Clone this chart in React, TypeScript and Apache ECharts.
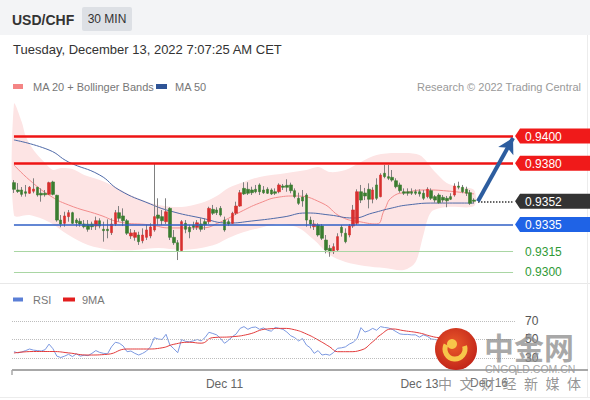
import React, { useEffect, useRef } from "react";
import * as echarts from "echarts";

// ---- DATA ----
// 30-min candles: [open, close, low, high]
const candles: number[][] = [
  [0.93657, 0.93608, 0.93581, 0.93676], [0.93603, 0.93592, 0.93581, 0.93654], [0.93603, 0.93571, 0.93554, 0.93625],
  [0.9359, 0.93579, 0.93554, 0.9364], [0.93579, 0.93623, 0.93574, 0.93632], [0.93594, 0.9361, 0.93579, 0.93689],
  [0.93623, 0.93566, 0.93554, 0.93627], [0.93579, 0.93566, 0.93517, 0.93615], [0.93579, 0.93568, 0.93554, 0.93603],
  [0.93571, 0.93657, 0.93566, 0.93664], [0.93662, 0.93571, 0.93564, 0.93671], [0.93564, 0.93382, 0.9337, 0.93568],
  [0.93382, 0.93353, 0.93329, 0.93419], [0.93358, 0.93412, 0.93333, 0.93443], [0.93407, 0.93436, 0.9337, 0.93456],
  [0.93436, 0.93358, 0.93353, 0.93443], [0.93382, 0.93362, 0.93333, 0.93395], [0.93373, 0.93353, 0.93333, 0.93395],
  [0.93353, 0.93333, 0.93321, 0.93382], [0.93351, 0.93314, 0.93296, 0.93382], [0.93353, 0.93333, 0.93309, 0.9337],
  [0.93338, 0.93377, 0.93309, 0.93407], [0.93377, 0.93338, 0.93321, 0.93395], [0.93314, 0.93304, 0.93223, 0.9337],
  [0.93314, 0.93304, 0.93248, 0.93387], [0.93289, 0.93353, 0.93272, 0.93395], [0.93353, 0.93436, 0.93338, 0.93456],
  [0.93436, 0.93395, 0.9337, 0.93485], [0.93412, 0.93377, 0.93338, 0.93468], [0.93377, 0.93285, 0.93272, 0.9339],
  [0.93265, 0.93287, 0.93243, 0.93316], [0.93255, 0.93289, 0.9323, 0.93309], [0.93272, 0.93223, 0.93199, 0.93296],
  [0.9323, 0.93272, 0.93211, 0.93321], [0.93255, 0.93309, 0.93235, 0.93346], [0.93265, 0.93331, 0.93248, 0.93358],
  [0.93309, 0.93407, 0.93296, 0.93799], [0.93419, 0.93395, 0.93346, 0.93542], [0.93407, 0.93377, 0.93346, 0.93456],
  [0.9337, 0.93443, 0.93353, 0.93542], [0.93468, 0.93255, 0.93235, 0.93476], [0.93255, 0.93215, 0.93199, 0.93309],
  [0.93215, 0.93157, 0.93088, 0.93235], [0.93157, 0.9337, 0.93149, 0.93382], [0.93358, 0.93314, 0.93285, 0.93382],
  [0.93329, 0.93296, 0.93248, 0.93346], [0.93346, 0.93329, 0.93309, 0.9337], [0.93329, 0.93362, 0.93309, 0.93382],
  [0.93353, 0.93314, 0.93296, 0.93395], [0.9337, 0.93346, 0.93309, 0.93395], [0.9337, 0.93468, 0.93353, 0.9348],
  [0.93461, 0.93432, 0.93419, 0.93493], [0.93456, 0.93436, 0.93419, 0.93476], [0.93468, 0.93419, 0.93407, 0.93485],
  [0.93382, 0.93309, 0.93296, 0.93407], [0.9337, 0.93353, 0.93338, 0.93387], [0.93358, 0.93432, 0.93353, 0.93443],
  [0.93432, 0.93485, 0.93419, 0.93517], [0.93485, 0.93583, 0.9348, 0.93603], [0.93615, 0.93574, 0.93566, 0.9366],
  [0.93608, 0.93579, 0.93566, 0.9366], [0.93603, 0.93583, 0.93566, 0.93627], [0.93608, 0.9359, 0.93579, 0.9364],
  [0.9364, 0.9359, 0.93566, 0.93652], [0.93603, 0.93583, 0.93574, 0.93632], [0.93608, 0.93579, 0.93574, 0.93623],
  [0.93603, 0.93574, 0.93566, 0.93615], [0.9359, 0.93579, 0.93566, 0.93615], [0.9359, 0.9364, 0.93579, 0.93652],
  [0.93632, 0.93623, 0.93603, 0.93647], [0.93637, 0.93623, 0.9359, 0.93682], [0.9364, 0.93598, 0.93579, 0.93657],
  [0.93598, 0.93554, 0.93542, 0.93615], [0.93542, 0.93505, 0.93493, 0.93583], [0.93551, 0.93522, 0.9348, 0.93603],
  [0.93566, 0.93382, 0.93333, 0.93579], [0.93382, 0.93353, 0.93321, 0.93407], [0.93333, 0.93353, 0.93309, 0.93382],
  [0.93346, 0.93272, 0.9326, 0.93358], [0.93338, 0.93248, 0.93235, 0.93353], [0.93235, 0.93162, 0.93137, 0.93272],
  [0.93174, 0.93149, 0.93112, 0.93199], [0.93149, 0.93186, 0.93132, 0.93211], [0.93162, 0.9326, 0.93149, 0.93285],
  [0.93329, 0.93289, 0.9326, 0.93346], [0.93285, 0.93223, 0.93211, 0.93321], [0.93272, 0.93338, 0.93255, 0.93353],
  [0.93338, 0.93456, 0.93324, 0.93493], [0.93358, 0.9359, 0.93346, 0.93608], [0.9359, 0.93529, 0.93507, 0.9364],
  [0.93581, 0.93559, 0.93529, 0.93618], [0.93608, 0.93535, 0.93468, 0.93652], [0.93535, 0.93603, 0.93505, 0.93623],
  [0.9364, 0.93542, 0.93529, 0.93689], [0.93554, 0.93713, 0.93549, 0.93726], [0.93726, 0.93701, 0.93689, 0.93787],
  [0.93701, 0.93689, 0.93676, 0.93787], [0.93696, 0.93676, 0.93664, 0.9375], [0.93671, 0.93627, 0.93615, 0.93689],
  [0.9364, 0.93598, 0.93583, 0.93657], [0.9359, 0.93579, 0.93566, 0.93615], [0.9359, 0.93579, 0.93561, 0.93615],
  [0.9359, 0.93579, 0.93566, 0.93615], [0.9359, 0.93579, 0.93566, 0.93608], [0.9359, 0.93574, 0.93554, 0.93608],
  [0.93579, 0.93542, 0.93529, 0.93603], [0.93554, 0.93608, 0.93542, 0.93623], [0.93598, 0.93542, 0.93529, 0.93615],
  [0.93554, 0.93529, 0.9351, 0.93566], [0.93566, 0.9351, 0.935, 0.93579], [0.93549, 0.93529, 0.9351, 0.93566],
  [0.93542, 0.93524, 0.93476, 0.93559], [0.93554, 0.93535, 0.93529, 0.93579], [0.93566, 0.93632, 0.93554, 0.93652],
  [0.93632, 0.93623, 0.93608, 0.93664], [0.93623, 0.9359, 0.93579, 0.9364], [0.93608, 0.93579, 0.93559, 0.93627],
  [0.93583, 0.93505, 0.93493, 0.93603], [0.93529, 0.9352, 0.93505, 0.93542],
];

// Bollinger bands and moving averages: [candle index, price]
const bbUpper: number[][] = [
  [0, 0.94235], [2, 0.94103], [3, 0.94], [5, 0.93897], [8, 0.93801], [10, 0.9375], [12, 0.93765], [15, 0.93757],
  [18, 0.93713], [22, 0.93676], [26, 0.93625], [31, 0.93551], [37, 0.93493], [43, 0.93478], [48, 0.93507],
  [52, 0.93559], [55, 0.93618], [59, 0.93662], [63, 0.93699], [70, 0.93728], [75, 0.9375], [78, 0.93772],
  [81, 0.93735], [85, 0.9375], [89, 0.93809], [93, 0.9386], [98, 0.93875], [104, 0.9386], [108, 0.93735],
  [111, 0.93654], [114, 0.93625], [118, 0.93603],
];
const bbLower: number[][] = [
  [0, 0.93419], [4, 0.93419], [9, 0.93368], [14, 0.93272], [19, 0.93199], [25, 0.93162], [31, 0.93162],
  [37, 0.93176], [43, 0.93162], [48, 0.93176], [52, 0.93206], [55, 0.9325], [59, 0.93294], [63, 0.93324],
  [68, 0.93353], [73, 0.93324], [77, 0.93235], [81, 0.93125], [85, 0.93074], [90, 0.93044], [95, 0.93029],
  [100, 0.93015], [103, 0.93074], [105, 0.93272], [107, 0.93441], [111, 0.93478], [118, 0.93485],
];
const ma20: number[][] = [
  [0, 0.93787], [4, 0.93676], [9, 0.93566], [14, 0.93493], [22, 0.93419], [27, 0.93368], [35, 0.93346],
  [40, 0.93324], [48, 0.93324], [53, 0.93368], [58, 0.93441], [63, 0.93507], [68, 0.93551], [72, 0.93559],
  [79, 0.93507], [84, 0.93404], [89, 0.93368], [93, 0.93353], [95, 0.93456], [97, 0.93551], [101, 0.93588],
  [106, 0.93603], [111, 0.93596], [118, 0.93574],
];
const ma50: number[][] = [
  [0, 0.93971], [9, 0.93897], [14, 0.93809], [22, 0.93713], [27, 0.93603], [35, 0.935], [40, 0.93449],
  [48, 0.93397], [55, 0.9336], [61, 0.93375], [69, 0.93404], [75, 0.93434], [81, 0.93419], [87, 0.93397],
  [92, 0.93434], [97, 0.93471], [101, 0.93493], [108, 0.93507], [118, 0.93507],
];

const rsi: number[] = [
  36.8, 35.5, 36.5, 38, 39.7, 38.5, 38, 37.5, 39, 45, 40, 32, 30.5, 32, 34, 31.5, 34.5, 32, 33, 32.5,
  35, 38, 36, 35, 34.5, 42, 47, 46, 43, 36.8, 37.5, 35, 33.2, 35, 37.5, 42, 52, 50.5, 50, 55.6,
  44, 40, 35.7, 50, 48, 47.5, 48.5, 50, 48.5, 52, 57.8, 56.5, 55, 51, 45.9, 49, 53, 56, 62, 63.9,
  61, 63, 63.5, 61, 62.5, 60, 59, 63, 62, 61, 58, 54, 52, 48.4, 51, 44, 41, 35, 38, 33.2,
  34, 33, 36, 40.5, 41, 42, 45, 47, 51, 62.8, 58, 59.5, 62, 60, 63.9, 63, 62.5, 61, 58.5, 56,
  55.5, 55.5, 55, 55, 52.5, 55, 53.5, 50.5, 50, 49, 50.5, 49, 53, 55, 54, 52, 50, 45, 47,
];
const rsiMa9: number[][] = [
  [0, 35.4], [5, 37], [10, 37], [14, 35.5], [19, 33.2], [24, 34], [29, 39.7], [34, 39.7], [38, 41], [41, 44.8],
  [45, 47], [48, 46], [51, 52], [56, 53], [60, 55.5], [65, 61.4], [69, 62], [72, 60.5], [75, 56], [78, 49.5],
  [81, 42], [83, 36.8], [86, 36.8], [89, 38.5], [92, 47.5], [94, 55], [97, 61.4], [100, 59.5], [104, 57],
  [107, 53.5], [109, 52], [114, 51], [118, 50],
];

const resistances = [0.94, 0.938];
const lastPrice = 0.9352;
const support = 0.9335;
const lowerSupports = [0.9315, 0.93];
const targetPrice = 0.93985;
const rsiLevels = [70, 50, 30];

const SLOTS = 129; // candles + empty space on the right
const categories: string[] = Array.from({ length: SLOTS }, (_, i) => String(i));
const dayTicks: Record<number, string> = { 54: "Dec 11", 104: "Dec 13" };

const FONT = "'Liberation Sans', Arial, Helvetica, sans-serif";

export default function App() {
  const ref = useRef<HTMLDivElement>(null);
  useEffect(() => {
    if (!ref.current) return;
    const chart = echarts.init(ref.current, null, { renderer: "svg" });
    const lastIdx = candles.length; // first empty slot
    const endIdx = SLOTS - 1;
    const boxPath = "path://M0,8L5,0L76,0L76,16L5,16Z";
    const box = (v: number, color: string) => ({
      coord: [categories[endIdx], v],
      name: v.toFixed(4),
      symbol: boxPath,
      symbolSize: [76, 15],
      symbolOffset: [40, 0],
      itemStyle: { color },
    });
    const hLine = (v: number, lineStyle: any, label?: any) => [
      { coord: [categories[0], v], lineStyle, label: label || { show: false } },
      { coord: [categories[endIdx], v] },
    ];
    const waterChars = ["中", "文", "财", "经", "新", "媒", "体"];

    const option: any = {
      animation: false,
      backgroundColor: "#ffffff",
      textStyle: { fontFamily: FONT },
      grid: [
        { left: 12, right: 75, top: 102, height: 183.6 },
        { left: 12, right: 75, top: 302.5, height: 67.5 },
      ],
      xAxis: [
        { type: "category", gridIndex: 0, data: categories, show: false, boundaryGap: true },
        {
          type: "category", gridIndex: 1, data: categories, boundaryGap: true,
          axisLine: { show: false },
          axisTick: { show: false },
          axisLabel: {
            interval: (i: number) => dayTicks[i] !== undefined,
            formatter: (_v: string, i: number) => dayTicks[i] || "",
            color: "#666", fontSize: 12, margin: 8, fontFamily: FONT,
          },
          splitLine: { show: false },
        },
      ],
      yAxis: [
        { type: "value", gridIndex: 0, min: 0.929, max: 0.9425, show: false, scale: true },
        { type: "value", gridIndex: 1, min: 17, max: 90, show: false },
      ],
      series: [
        {
          type: "custom", xAxisIndex: 0, yAxisIndex: 0, z: 1, silent: true,
          data: [[0, 0.935]],
          renderItem: (_p: any, api: any) => {
            const up = bbUpper.map(([i, v]) => api.coord([i, v]));
            const lo = bbLower.slice().reverse().map(([i, v]) => api.coord([i, v]));
            return {
              type: "polygon",
              shape: { points: up.concat(lo), smooth: 0.3 },
              style: { fill: "#fde4e4" },
            };
          },
        },
        {
          type: "line", xAxisIndex: 0, yAxisIndex: 0, z: 2, data: ma20, smooth: true, showSymbol: false,
          lineStyle: { color: "#f28b8b", width: 1 }, silent: true,
        },
        {
          type: "line", xAxisIndex: 0, yAxisIndex: 0, z: 2, data: ma50, smooth: true, showSymbol: false,
          lineStyle: { color: "#4f6aa8", width: 1 }, silent: true,
        },
        {
          type: "candlestick", xAxisIndex: 0, yAxisIndex: 0, z: 3, barWidth: 1, data: candles,
          itemStyle: { color: "#808080", color0: "#808080", borderColor: "#808080", borderColor0: "#808080", borderWidth: 1 },
          silent: true,
        },
        {
          type: "candlestick", xAxisIndex: 0, yAxisIndex: 0, z: 4, barWidth: 3,
          data: candles.map(([o, c]) => [o, c, Math.min(o, c), Math.max(o, c)]),
          itemStyle: { color: "#d7302f", color0: "#3b7d30", borderColor: "#d7302f", borderColor0: "#3b7d30", borderWidth: 0.6 },
          silent: true,
          markLine: {
            silent: true, symbol: ["none", "none"], animation: false,
            label: { show: false },
            data: [
              ...resistances.map((v) => hLine(v, { color: "#ee1414", width: 2.5, type: "solid" })),
              hLine(support, { color: "#2f5fc6", width: 1.5, type: "solid" }),
              ...lowerSupports.map((v) =>
                hLine(v, { color: "#a9d6a3", width: 1.2, type: "solid" }, {
                  show: true, position: "end", distance: 12, formatter: v.toFixed(4),
                  color: "#2f9a36", fontSize: 12, fontFamily: FONT,
                })
              ),
              [
                { coord: [categories[lastIdx], lastPrice], lineStyle: { color: "#333", width: 1.5, type: "dotted" } },
                { coord: [categories[endIdx], lastPrice] },
              ],
              [
                { coord: [categories[lastIdx], lastPrice], symbol: "none", lineStyle: { color: "#2d5d9f", width: 4, type: "solid" } },
                { coord: [categories[endIdx], targetPrice], symbol: "arrow", symbolSize: [13, 15] },
              ],
            ],
          },
          markPoint: {
            silent: true, animation: false,
            label: {
              show: true, formatter: "{b}", color: "#ffffff", fontSize: 12, fontFamily: FONT,
              position: [10, 8], align: "left", verticalAlign: "middle",
            },
            data: [
              box(resistances[0], "#f01a1a"),
              box(resistances[1], "#f01a1a"),
              box(lastPrice, "#333333"),
              box(support, "#1f63e6"),
            ],
          },
        },
        {
          type: "line", xAxisIndex: 1, yAxisIndex: 1, z: 3, data: rsi, showSymbol: false,
          lineStyle: { color: "#7b98e0", width: 1 }, silent: true,
          markLine: {
            silent: true, symbol: ["none", "none"], animation: false,
            lineStyle: { color: "#bdbdbd", type: "dotted", width: 1 },
            label: { show: true, position: "end", distance: 10, color: "#555", fontSize: 12, fontFamily: FONT, formatter: "{c}" },
            data: rsiLevels.map((v) => ({ yAxis: v })),
          },
        },
        {
          type: "line", xAxisIndex: 1, yAxisIndex: 1, z: 4, data: rsiMa9, smooth: true, showSymbol: false,
          lineStyle: { color: "#e23b3b", width: 1 }, silent: true,
        },
      ],
      graphic: [
        { type: "rect", shape: { x: 0, y: 0, width: 590, height: 35 }, style: { fill: "#f3f4f6" }, z: 0 },
        { type: "text", x: 12, y: 20, style: { text: "USD/CHF", font: `bold 14px ${FONT}`, fill: "#333", textVerticalAlign: "middle" } },
        { type: "rect", shape: { x: 82, y: 7, width: 50, height: 24, r: 2 }, style: { fill: "#dde0e5" } },
        { type: "text", x: 107, y: 19, style: { text: "30 MIN", font: `12px ${FONT}`, fill: "#333", textAlign: "center", textVerticalAlign: "middle" } },
        { type: "text", x: 13, y: 49, style: { text: "Tuesday, December 13, 2022 7:07:25 AM CET", font: `13px ${FONT}`, fill: "#333", textVerticalAlign: "middle" } },
        { type: "rect", shape: { x: 13, y: 84, width: 10, height: 5 }, style: { fill: "#f48585" } },
        { type: "text", x: 33, y: 86.5, style: { text: "MA 20 + Bollinger Bands", font: `11px ${FONT}`, fill: "#777", textVerticalAlign: "middle" } },
        { type: "rect", shape: { x: 156, y: 84, width: 11, height: 5 }, style: { fill: "#2f5496" } },
        { type: "text", x: 175, y: 86.5, style: { text: "MA 50", font: `11px ${FONT}`, fill: "#777", textVerticalAlign: "middle" } },
        { type: "text", x: 581, y: 86.5, style: { text: "Research © 2022 Trading Central", font: `11px ${FONT}`, fill: "#999", textAlign: "right", textVerticalAlign: "middle" } },
        { type: "line", shape: { x1: 0, y1: 283.5, x2: 590, y2: 283.5 }, style: { stroke: "#e8e8e8", lineWidth: 1 } },
        { type: "line", shape: { x1: 587.5, y1: 35, x2: 587.5, y2: 397 }, style: { stroke: "#ececec", lineWidth: 1 } },
        { type: "line", shape: { x1: 0, y1: 397.5, x2: 590, y2: 397.5 }, style: { stroke: "#ececec", lineWidth: 1 } },
        { type: "rect", shape: { x: 13, y: 297.5, width: 10, height: 4 }, style: { fill: "#5b7fd6" } },
        { type: "text", x: 33, y: 299.5, style: { text: "RSI", font: `11px ${FONT}`, fill: "#777", textVerticalAlign: "middle" } },
        { type: "rect", shape: { x: 63, y: 297.5, width: 12, height: 4 }, style: { fill: "#e31e1e" } },
        { type: "text", x: 82, y: 299.5, style: { text: "9MA", font: `11px ${FONT}`, fill: "#777", textVerticalAlign: "middle" } },
        { type: "line", shape: { x1: 12, y1: 370, x2: 588, y2: 370 }, style: { stroke: "#a8a8a8", lineWidth: 2 } },
        { type: "line", shape: { x1: 12, y1: 370, x2: 12, y2: 375 }, style: { stroke: "#a8a8a8", lineWidth: 1.5 } },
        { type: "line", shape: { x1: 516, y1: 370, x2: 516, y2: 375 }, style: { stroke: "#a8a8a8", lineWidth: 1.5 } },
        // watermark
        {
          type: "circle", z: 100, shape: { cx: 456, cy: 349, r: 21 },
          style: {
            fill: new echarts.graphic.RadialGradient(0.45, 0.4, 0.6, [
              { offset: 0, color: "#ea5a2a" },
              { offset: 1, color: "#c3261a" },
            ]),
          },
        },
        { type: "arc", z: 101, shape: { cx: 455, cy: 349, r: 10, startAngle: -0.3, endAngle: 3.6 }, style: { stroke: "#f7c64a", lineWidth: 5, fill: "none" } },
        { type: "circle", z: 101, shape: { cx: 452, cy: 344, r: 5 }, style: { fill: "#f7c64a" } },
        { type: "text", z: 100, x: 484, y: 346, style: { text: "中金网", font: `bold 30px 'Noto Sans CJK SC', sans-serif`, fill: "rgba(140,140,140,0.75)", textVerticalAlign: "middle" } },
        { type: "text", z: 100, x: 485, y: 369, style: { text: "CNGOLD.COM.CN", font: `10.5px ${FONT}`, fill: "rgba(150,150,150,0.85)", textVerticalAlign: "middle" } },
        { type: "text", z: 99, x: 470, y: 383, style: { text: "Dec 16", font: `12px ${FONT}`, fill: "#777", textVerticalAlign: "middle" } },
        ...waterChars.map((ch, k) => ({
          type: "text", z: 100, x: 438 + k * 21.5, y: 383,
          style: { text: ch, font: `14px 'Noto Sans CJK SC', sans-serif`, fill: "rgba(130,130,130,0.85)", textVerticalAlign: "middle" },
        })),
      ],
    };
    chart.setOption(option);
    return () => chart.dispose();
  }, []);
  return (
    <div
      ref={ref}
      style={{ position: "absolute", left: 0, top: 0, width: 590, height: 400 }}
    />
  );
}
